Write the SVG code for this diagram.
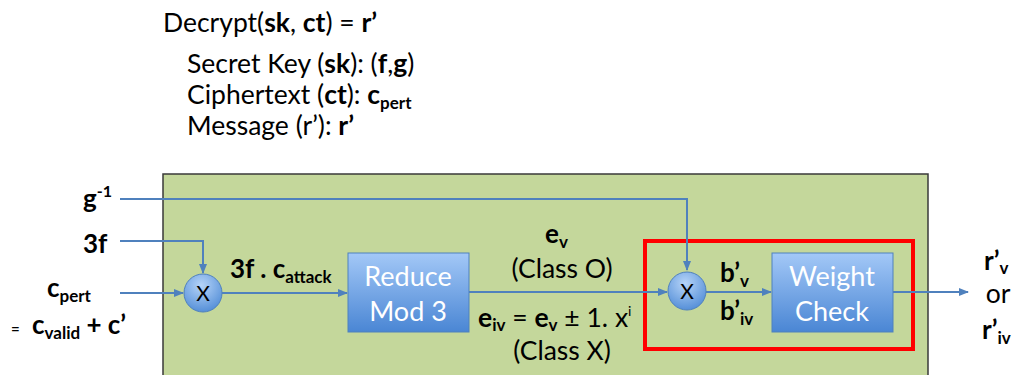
<svg xmlns="http://www.w3.org/2000/svg" width="1021" height="375" viewBox="0 0 1021 375">
<style>
text{font-family:Lato,"Liberation Sans",sans-serif;fill:#000}
.t{font-size:26.5px}
.b{font-weight:bold}
.lbl{font-size:26px;font-weight:bold}
.s{font-size:17px}
.w{fill:#fff;font-size:27px;text-anchor:middle}
.c{fill:none;stroke:#4f81bd;stroke-width:2}
.box{stroke:#4f81bd;stroke-width:1;fill:url(#bg)}
.circ{stroke:#4f81bd;stroke-width:1;fill:url(#cg)}
</style>
<defs>
<linearGradient id="bg" x1="0" y1="0" x2="0" y2="1">
<stop offset="0" stop-color="#a3c8f7"/><stop offset="1" stop-color="#4a86d4"/>
</linearGradient>
<radialGradient id="cg" cx="0.45" cy="0.3" r="0.75">
<stop offset="0" stop-color="#b6d4f8"/><stop offset="1" stop-color="#4f8bd6"/>
</radialGradient>
<marker id="ah" markerWidth="10" markerHeight="8" refX="9" refY="4" orient="auto" markerUnits="userSpaceOnUse">
<path d="M0,0 L10,4 L0,8 z" fill="#4f81bd"/>
</marker>
</defs>

<g id="header">
<text class="t" x="163" y="32" font-size="25.5">Decrypt(<tspan class="b">sk</tspan>, <tspan class="b">ct</tspan>) = <tspan class="b">r’</tspan></text>
<text class="t" x="187" y="73">Secret Key (<tspan class="b">sk</tspan>): (<tspan class="b">f</tspan>,<tspan class="b">g</tspan>)</text>
<text class="t" x="187" y="104">Ciphertext (<tspan class="b">ct</tspan>): <tspan class="b">c</tspan><tspan class="b s" dy="5">pert</tspan></text>
<text class="t" x="187" y="135">Message (r’): <tspan class="b">r’</tspan></text>
</g>

<g id="panel">
<rect x="163" y="174" width="765" height="205" fill="#c4d79b" stroke="#3a3a3a" stroke-width="1.5"/>
</g>

<g id="highlight">
<rect x="645" y="241" width="268" height="108" fill="none" stroke="#ff0000" stroke-width="4"/>
</g>

<g id="connectors">
<path class="c" d="M120,199 H687 V270" marker-end="url(#ah)"/>
<path class="c" d="M120,241 H203 V273" marker-end="url(#ah)"/>
<path class="c" d="M120,293 H183" marker-end="url(#ah)"/>
<path class="c" d="M222,293 H347" marker-end="url(#ah)"/>
<path class="c" d="M469,292 H667" marker-end="url(#ah)"/>
<path class="c" d="M706,292 H771" marker-end="url(#ah)"/>
<path class="c" d="M893,292 H968" marker-end="url(#ah)"/>
</g>

<g id="inputs">
<text class="lbl" x="83" y="208">g<tspan font-size="16" dy="-11">-1</tspan></text>
<text class="lbl" x="83" y="253">3f</text>
<text class="lbl" x="47" y="297">c<tspan class="s" dy="5">pert</tspan></text>
<text class="lbl" x="11" y="334"><tspan font-size="15">=</tspan><tspan x="32">c</tspan><tspan class="s" dy="5">valid</tspan><tspan dy="-5"> + c’</tspan></text>
</g>

<g id="mult1">
<circle class="circ" cx="203" cy="293" r="19"/>
<text x="203" y="301" font-size="21" text-anchor="middle">X</text>
</g>

<g id="lbl-3fc">
<text class="lbl" x="230" y="278">3f . c<tspan class="s" dy="5">attack</tspan></text>
</g>

<g id="reduce">
<rect class="box" x="348" y="253" width="121" height="79"/>
<text class="w" x="408" y="286">Reduce</text>
<text class="w" x="408" y="321">Mod 3</text>
</g>

<g id="lbl-e">
<text class="lbl" x="545" y="243">e<tspan class="s" dy="5">v</tspan></text>
<text class="t" x="562" y="278" text-anchor="middle">(Class O)</text>
<text x="478" y="327" class="t"><tspan class="b">e</tspan><tspan class="b s" dy="4">iv</tspan><tspan dy="-4"> = </tspan><tspan class="b">e</tspan><tspan class="b s" dy="4">v</tspan><tspan dy="-4"> ± 1. x</tspan><tspan font-size="14" dy="-11">i</tspan></text>
<text class="t" x="562" y="360" text-anchor="middle">(Class X)</text>
</g>

<g id="mult2">
<circle class="circ" cx="687" cy="291" r="19"/>
<text x="687" y="299" font-size="21" text-anchor="middle">X</text>
</g>

<g id="lbl-b">
<text class="lbl" x="720" y="282">b’<tspan class="s" dy="5">v</tspan></text>
<text class="lbl" x="720" y="320">b’<tspan class="s" dy="5">iv</tspan></text>
</g>

<g id="weight">
<rect class="box" x="772" y="253" width="121" height="79"/>
<text class="w" x="832" y="286">Weight</text>
<text class="w" x="832" y="321">Check</text>
</g>

<g id="outputs">
<text class="lbl" x="984" y="270">r’<tspan class="s" dy="4">v</tspan></text>
<text class="t" x="998" y="303" text-anchor="middle">or</text>
<text class="lbl" x="982" y="339">r’<tspan class="s" dy="5">iv</tspan></text>
</g>
</svg>
